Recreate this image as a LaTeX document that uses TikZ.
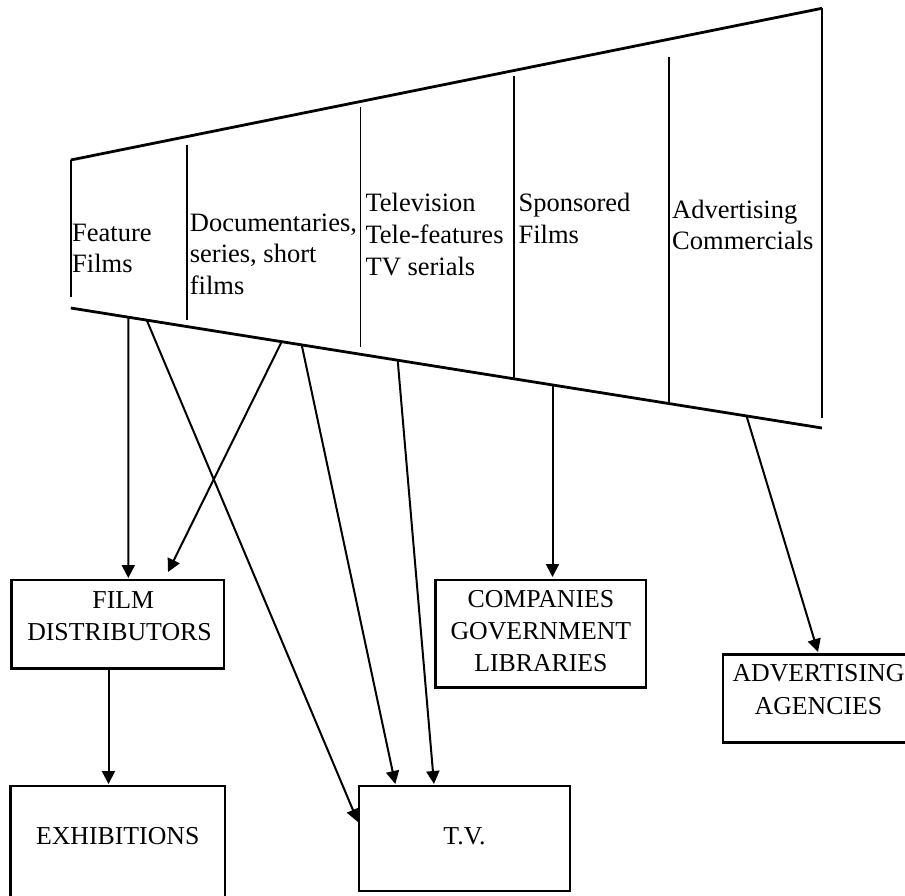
\documentclass[tikz,border=0pt]{standalone}
\usepackage{fontspec}
\setmainfont{Liberation Serif}
\usetikzlibrary{arrows.meta,calc}

\begin{document}
\begin{tikzpicture}[x=1pt,y=-1pt,
  rim/.style={line width=2.8pt},
  side/.style={line width=2pt},
  divider/.style={line width=1.9pt},
  flow/.style={line width=2pt,-{Triangle[length=13pt,width=13pt]}},
  box/.style={draw,line width=2.6pt,anchor=north west,inner sep=0pt,outer sep=0pt},
  txt/.style={font=\fontsize{26.5}{32}\selectfont,inner sep=0pt,anchor=base west},
  boxtxt/.style={font=\fontsize{25.8}{32}\selectfont,inner sep=0pt,anchor=base}]

\useasboundingbox (0,0) rectangle (905,895);
\clip (0,0) rectangle (905,895);

% funnel of production categories
\coordinate (tl) at (70.8,160);
\coordinate (tr) at (822,8.3);
\coordinate (bl) at (70.8,308);
\coordinate (br) at (822,428);
\draw[rim] (tl) -- (tr);
\draw[rim] (bl) -- (br);
\draw[side] (tl) -- (70.8,297);
\draw[side] (tr) -- (822,418);
\draw[divider] (187,145) -- (187,320);
\draw[divider] (360.5,107) -- (360.5,347);
\draw[divider] (514,76) -- (514,378);
\draw[divider] (668.6,57) -- (668.6,403);

% category labels
\node[txt] (ff1) at (72,241) {Feature};
\node[txt] (ff2) at (72,272.5) {Films};
\node[txt] (dc1) at (189.7,231) {Documentaries,};
\node[txt] (dc2) at (189.7,262.7) {series, short};
\node[txt] (dc3) at (189.7,294.7) {films};
\node[txt] (tv1) at (365.4,211.7) {Television};
\node[txt] (tv2) at (365.4,243.7) {Tele-features};
\node[txt] (tv3) at (365.4,275.7) {TV serials};
\node[txt] (sp1) at (518.4,211) {Sponsored};
\node[txt] (sp2) at (518.4,243.3) {Films};
\node[txt] (ad1) at (672,218) {Advertising};
\node[txt] (ad2) at (672,249.3) {Commercials};

% outlet boxes
\node[box,minimum width=212.6pt,minimum height=88.3pt] (fd) at (11.4,580) {};
\node[box,minimum width=214.6pt,minimum height=130pt] (ex) at (10.4,786) {};
\node[box,minimum width=211pt,minimum height=105pt] (tv) at (359,786) {};
\node[box,minimum width=210.3pt,minimum height=107.7pt] (co) at (435.7,580) {};
\node[box,minimum width=200pt,minimum height=88.4pt] (ag) at (723,654.3) {};

\node[boxtxt] (fd1) at (123.3,608.5) {FILM};
\node[boxtxt] (fd2) at (119.5,640) {DISTRIBUTORS};
\node[boxtxt] (ex1) at (117.7,844.3) {EXHIBITIONS};
\node[boxtxt] (tvt) at (464.5,844.3) {T.V.};
\node[boxtxt] (co1) at (540.9,607.7) {COMPANIES};
\node[boxtxt] (co2) at (540.9,639.3) {GOVERNMENT};
\node[boxtxt] (co3) at (540.9,671.7) {LIBRARIES};
\node[boxtxt] (ag1) at (818.5,681.7) {ADVERTISING};
\node[boxtxt] (ag2) at (818.5,714.3) {AGENCIES};

% start points on the lower rim
\coordinate (s1) at (128.3,318);
\coordinate (s2) at (146.7,320.1);
\coordinate (s3) at (281.7,341.7);
\coordinate (s4) at (301.7,344.9);
\coordinate (s5) at (397.7,360.2);
\coordinate (s6) at (552.5,384.9);
\coordinate (s7) at (746.5,415.9);

% arrow ends at the boxes
\coordinate (e1) at ($(fd.north west)+(116.9,-2)$);
\coordinate (e3) at ($(fd.north west)+(156.6,-8)$);
\coordinate (e2) at ($(tv.north west)+(-1,36)$);
\coordinate (e4) at ($(tv.north west)+(36.3,-2)$);
\coordinate (e5) at ($(tv.north west)+(75,-2)$);
\coordinate (e6) at ($(co.north west)+(116.8,-3)$);
\coordinate (e7) at ($(ag.north west)+(95,-2.3)$);
\coordinate (f8) at ($(fd.south west)+(97.1,0)$);
\coordinate (e8) at ($(ex.north west)+(98.1,-2)$);

\draw[flow] (s1) -- (e1);
\draw[flow] (s2) -- (e2);
\draw[flow] (s3) -- (e3);
\draw[flow] (s4) -- (e4);
\draw[flow] (s5) -- (e5);
\draw[flow] (s6) -- (e6);
\draw[flow] (s7) -- (e7);
\draw[flow] (f8) -- (e8);
\end{tikzpicture}
\end{document}
